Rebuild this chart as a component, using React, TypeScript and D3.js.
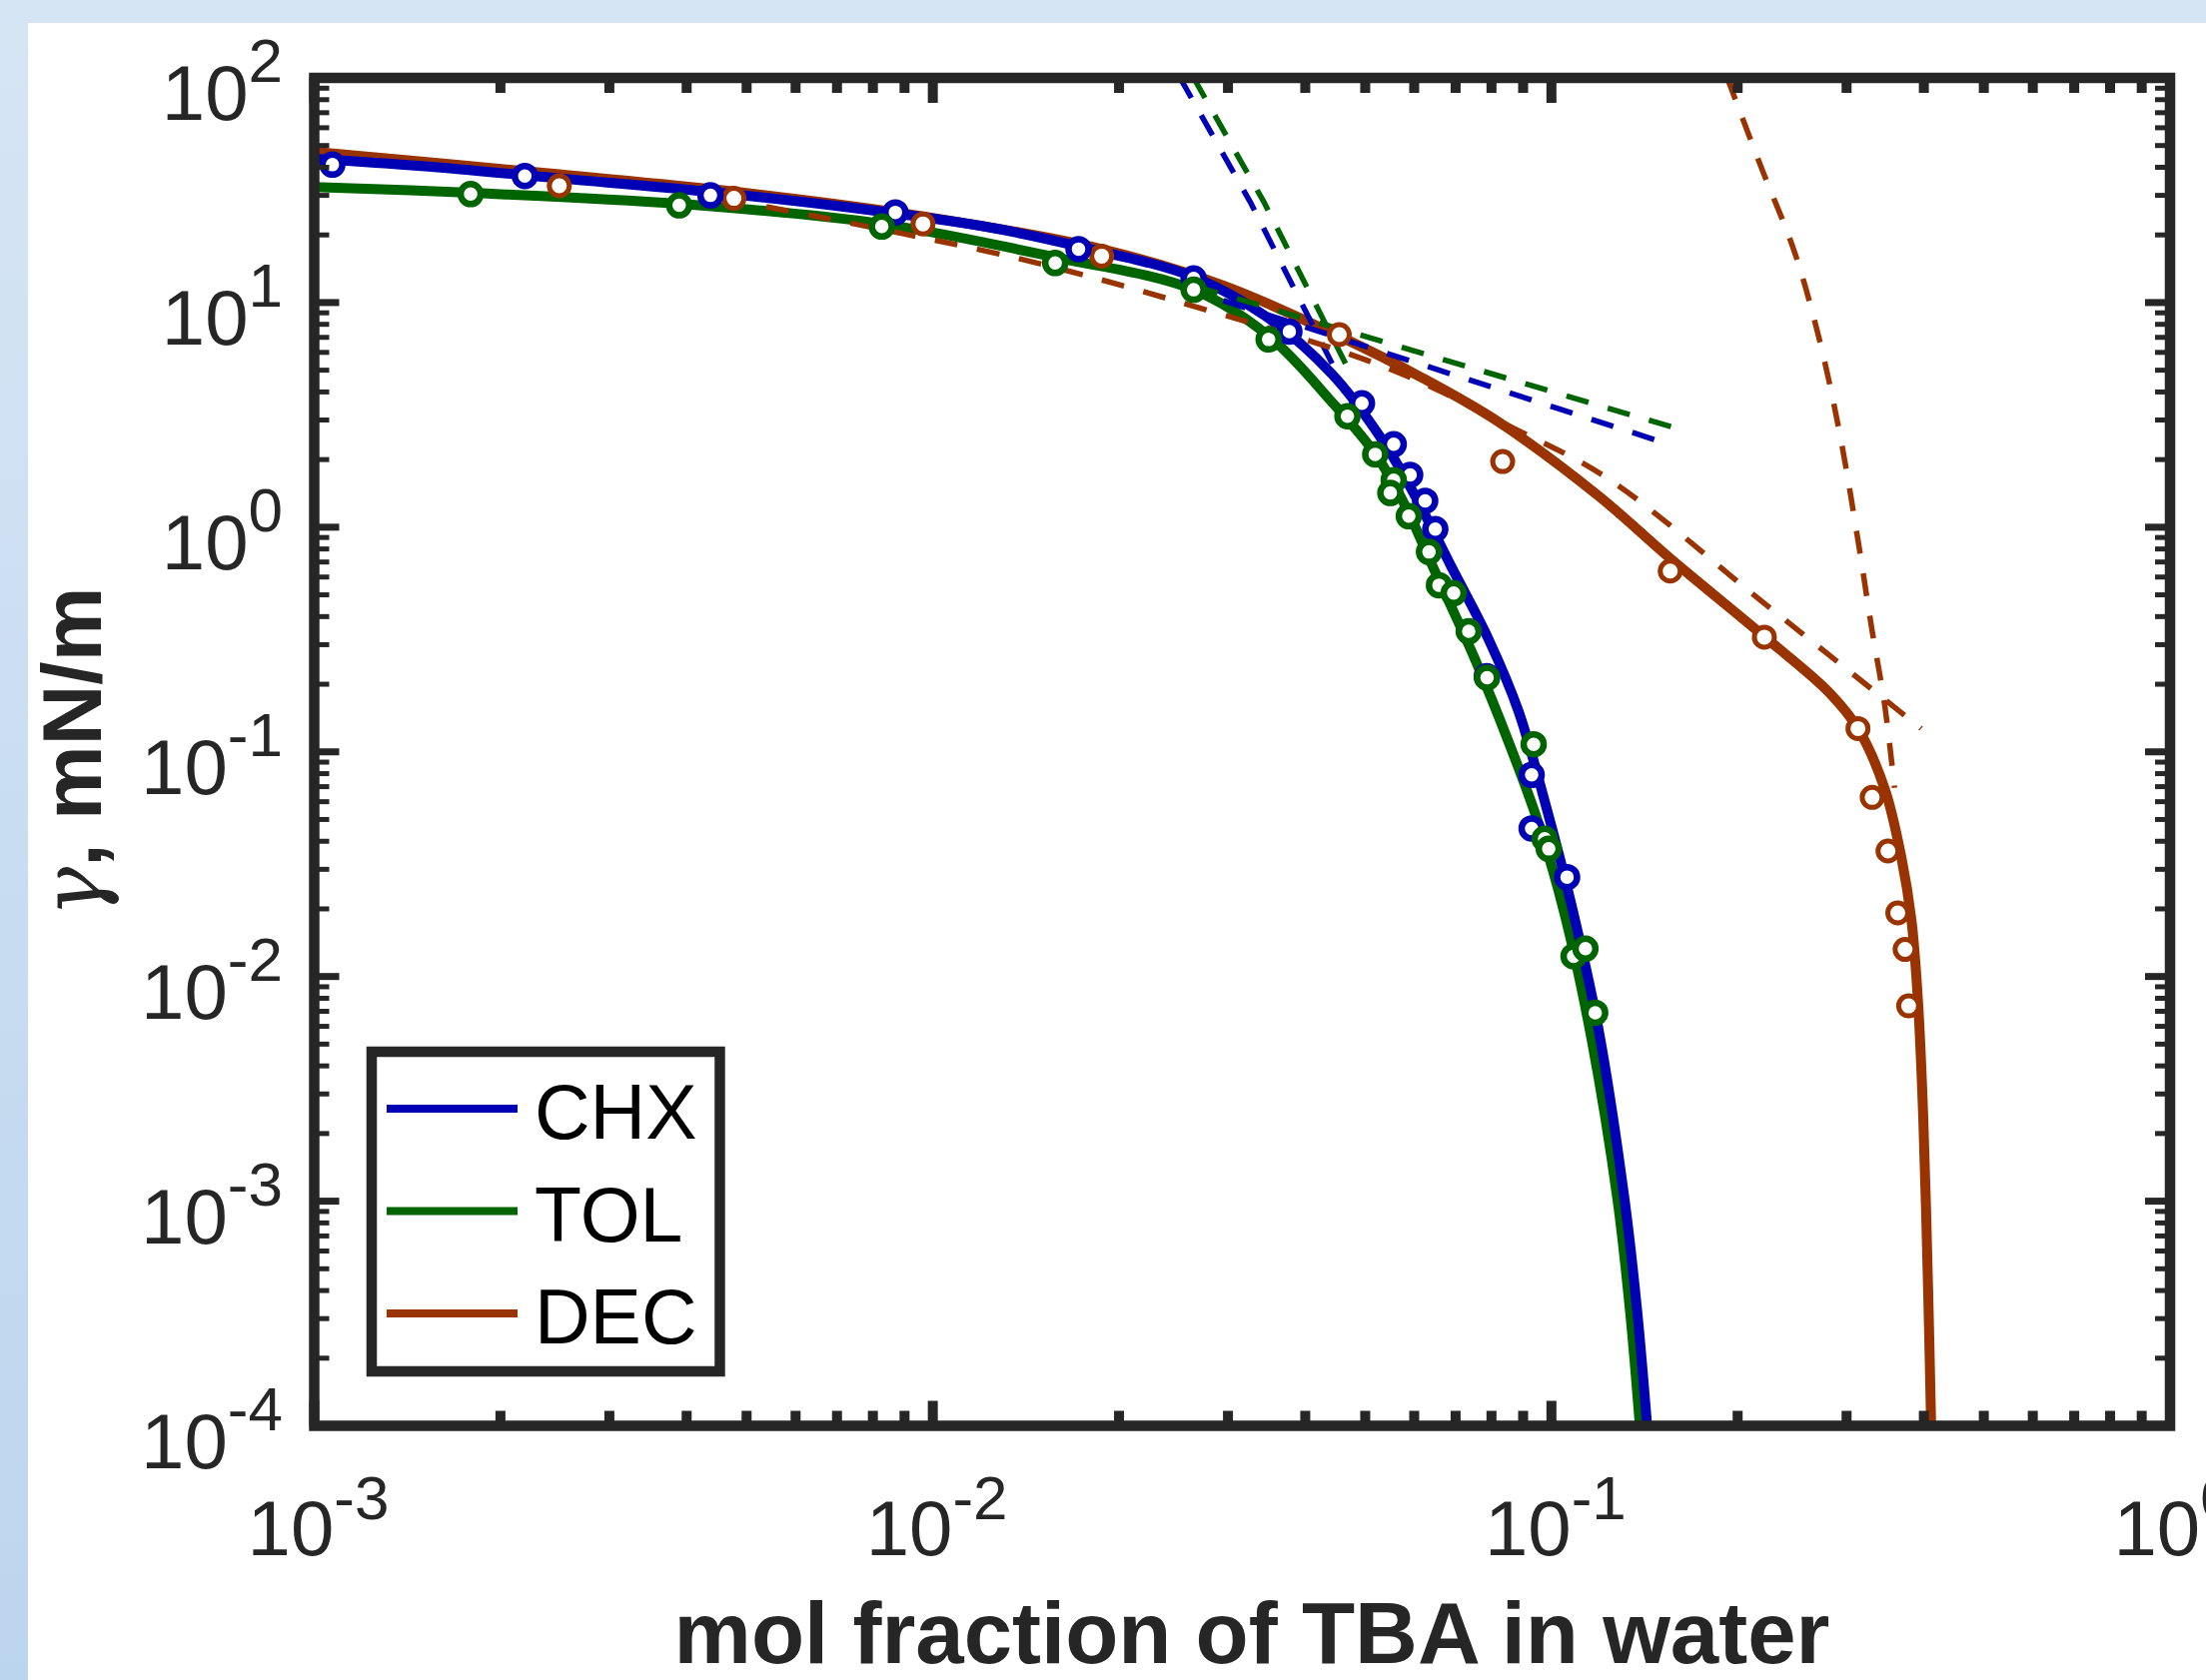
import React, { useEffect } from 'react';
import * as d3 from 'd3';

const W = 2208;
const H = 1682;

// axis decades
const xTickExps = [-3, -2, -1, 0];
const yTickExps = [2, 1, 0, -1, -2, -3, -4];

const seriesNames = ['CHX', 'TOL', 'DEC'];

// measured points (mol fraction, gamma mN/m)
const chxPoints: [number, number][] = [
  [0.00107, 41.1], [0.00219, 36.6], [0.00437, 30.0], [0.0087, 25.2], [0.0172, 17.3],
  [0.0264, 12.8], [0.0377, 7.43], [0.0494, 3.56], [0.0556, 2.34], [0.0591, 1.71],
  [0.0625, 1.31], [0.0649, 0.98], [0.0786, 0.217], [0.0929, 0.079], [0.0929, 0.0456],
  [0.106, 0.0277],
];
const tolPoints: [number, number][] = [
  [0.00179, 30.4], [0.00389, 27.1], [0.00827, 21.8], [0.01577, 15.0], [0.0264, 11.4],
  [0.0349, 6.85], [0.0468, 3.12], [0.0519, 2.11], [0.0556, 1.62], [0.0549, 1.42],
  [0.0588, 1.12], [0.0634, 0.776], [0.0658, 0.552], [0.0695, 0.509], [0.0735, 0.344],
  [0.0787, 0.214], [0.0936, 0.108], [0.0975, 0.041], [0.099, 0.037], [0.1086, 0.0123],
  [0.1135, 0.0133], [0.1177, 0.0069],
];
const decPoints: [number, number][] = [
  [0.00249, 33.1], [0.00477, 29.1], [0.00964, 22.4], [0.01875, 16.1], [0.0454, 7.2],
  [0.0834, 1.96], [0.1556, 0.638], [0.2209, 0.324], [0.313, 0.127], [0.33, 0.0627],
  [0.35, 0.0362], [0.363, 0.0192], [0.373, 0.0132], [0.378, 0.0074],
];

// fitted curves (solid)
const chxFit: [number, number][] = [
  [0.001, 43.6], [0.00149, 40.5], [0.00252, 35.6], [0.00426, 31.3], [0.00718, 26.7],
  [0.01213, 21.8], [0.0172, 17.8], [0.0264, 13.0], [0.0345, 8.7], [0.0442, 4.8],
  [0.0532, 2.46], [0.0602, 1.38], [0.069, 0.662], [0.0791, 0.318], [0.0884, 0.1525],
  [0.0977, 0.0592], [0.1078, 0.0207], [0.1191, 0.00586], [0.1313, 0.001014],
  [0.1376, 0.000324], [0.1428, 0.0001],
];
const tolFit: [number, number][] = [
  [0.001, 32.7], [0.00179, 30.8], [0.00389, 27.5], [0.00827, 22.4], [0.01577, 15.9],
  [0.0264, 11.4], [0.0349, 7.1], [0.0442, 3.6], [0.0519, 2.12], [0.058, 1.25],
  [0.0641, 0.68], [0.0753, 0.257], [0.0852, 0.1112], [0.0953, 0.048], [0.1052, 0.01866],
  [0.1161, 0.00528], [0.1279, 0.001014], [0.134, 0.000324], [0.139, 0.0001],
];
const decFit: [number, number][] = [
  [0.001, 46.9], [0.00249, 37.2], [0.00477, 31.2], [0.00964, 24.2], [0.01875, 17.3],
  [0.0295, 11.9], [0.0454, 7.08], [0.0614, 4.67], [0.082, 2.95], [0.1191, 1.38],
  [0.1556, 0.726], [0.2209, 0.326], [0.2808, 0.1845], [0.313, 0.127], [0.3457, 0.0686],
  [0.3679, 0.0339], [0.382, 0.01775], [0.3913, 0.0078], [0.399, 0.0024],
  [0.4063, 0.000412], [0.411, 0.0001],
];

// limiting-law lines (dashed)
const chxSteep: [number, number][] = [[0.0251, 100], [0.0326, 28.0], [0.0445, 5.16]];
const tolSteep: [number, number][] = [[0.0264, 100], [0.0343, 28.0], [0.0469, 5.09]];
const chxShallow: [number, number][] = [[0.0295, 10.2], [0.1556, 2.33]];
const tolShallow: [number, number][] = [[0.0266, 11.8], [0.1603, 2.74]];
const decShallow: [number, number][] = [
  [0.00538, 26.7], [0.01324, 16.1], [0.0243, 10.3], [0.0545, 5.09], [0.0873, 2.74],
  [0.1233, 1.65], [0.2209, 0.458], [0.396, 0.127],
];
const decSteep: [number, number][] = [
  [0.1924, 100], [0.2193, 38.8], [0.2466, 17.1], [0.2703, 7.08], [0.2924, 2.62],
  [0.313, 0.876], [0.3298, 0.348], [0.3457, 0.162], [0.3586, 0.0692],
];

const BLUE = '#0000b4';
const GREEN = '#006400';
const BROWN = '#993300';
const AX = '#262626';

const L = 314.5, R = 2172, T = 78, B = 1427.5;

export default function App() {
  useEffect(() => {
    document.body.style.margin = '0';
  }, []);

  const x = d3.scaleLog().domain([1e-3, 1]).range([L, R]);
  const y = d3.scaleLog().domain([1e-4, 1e2]).range([B, T]);

  const smooth = d3.line<[number, number]>()
    .x(d => x(d[0])).y(d => y(d[1]))
    .curve(d3.curveCatmullRom.alpha(0.5));
  const straight = d3.line<[number, number]>()
    .x(d => x(d[0])).y(d => y(d[1]));

  const xt = x.ticks();
  const yt = y.ticks();
  const isMajor = (v: number) => Math.abs(Math.log10(v) - Math.round(Math.log10(v))) < 1e-6;

  const colors = [BLUE, GREEN, BROWN];

  const marker = (pts: [number, number][], c: string, sw: number, key: string) =>
    pts.map((p, i) => (
      <circle key={key + i} cx={x(p[0])} cy={y(p[1])} r={10} fill="#fff" stroke={c} strokeWidth={sw} />
    ));

  const font = '"Liberation Sans", Arial, Helvetica, sans-serif';

  return (
    <svg width={W} height={H} style={{ position: 'absolute', left: 0, top: 0, display: 'block' }}
      xmlns="http://www.w3.org/2000/svg">
      <defs>
        <linearGradient id="bg" x1="0" y1="0" x2="0" y2="1">
          <stop offset="0" stopColor="#d6e5f4" />
          <stop offset="1" stopColor="#bcd5ee" />
        </linearGradient>
        <clipPath id="plotclip">
          <rect x={L} y={T} width={R - L} height={B - T} />
        </clipPath>
      </defs>
      <rect x={0} y={0} width={W} height={H} fill="url(#bg)" />
      <rect x={28} y={23} width={W - 28} height={H - 23} fill="#ffffff" />

      <g clipPath="url(#plotclip)" fill="none">
        <path d={smooth(decFit) || ''} stroke={BROWN} strokeWidth={10} />
        <path d={smooth(tolFit) || ''} stroke={GREEN} strokeWidth={10} />
        <path d={smooth(chxFit) || ''} stroke={BLUE} strokeWidth={10} />
        <g strokeWidth={5.5} strokeDasharray="23 20">
          <path d={straight(chxSteep) || ''} stroke={BLUE} />
          <path d={straight(tolSteep) || ''} stroke={GREEN} />
          <path d={straight(chxShallow) || ''} stroke={BLUE} />
          <path d={straight(tolShallow) || ''} stroke={GREEN} />
          <path d={smooth(decShallow) || ''} stroke={BROWN} />
          <path d={smooth(decSteep) || ''} stroke={BROWN} />
        </g>
      </g>

      {marker(decPoints, BROWN, 5, 'd')}
      {marker(chxPoints, BLUE, 6.5, 'c')}
      {marker(tolPoints, GREEN, 6.5, 't')}

      {/* ticks */}
      <g stroke={AX}>
        {xt.map((v, i) => {
          const len = isMajor(v) ? 25 : 15;
          const px = x(v);
          return (
            <g key={'xt' + i}>
              <line x1={px} x2={px} y1={B} y2={B - len} strokeWidth={10} />
              <line x1={px} x2={px} y1={T} y2={T + len} strokeWidth={10} />
            </g>
          );
        })}
        {yt.map((v, i) => {
          const maj = isMajor(v);
          const len = maj ? 25 : 15;
          const py = y(v);
          return (
            <g key={'yt' + i}>
              <line x1={L} x2={L + len} y1={py} y2={py} strokeWidth={maj ? 7 : 5} />
              <line x1={R} x2={R - len} y1={py} y2={py} strokeWidth={maj ? 7 : 5} />
            </g>
          );
        })}
      </g>
      <rect x={L} y={T} width={R - L} height={B - T} fill="none" stroke={AX} strokeWidth={10.5} />

      {/* tick labels */}
      <g fill={AX} fontFamily={font}>
        {yTickExps.map(e => (
          <text key={'yl' + e} x={283} y={y(Math.pow(10, e)) + 42} textAnchor="end" fontSize={78}>
            10<tspan fontSize={62} dy={-38}>{String(e)}</tspan>
          </text>
        ))}
        {xTickExps.map(e => (
          <text key={'xl' + e} x={x(Math.pow(10, e)) + 4} y={1557} textAnchor="middle" fontSize={78}>
            10<tspan fontSize={62} dy={-36}>{String(e)}</tspan>
          </text>
        ))}
      </g>

      {/* axis labels */}
      <text x={1253} y={1665} textAnchor="middle" fontFamily={font} fontWeight="bold" fontSize={87} fill={AX}>
        mol fraction of TBA in water
      </text>
      <text transform={`translate(101,${(T + B) / 2}) rotate(-90)`} textAnchor="middle" fontFamily={font}
        fontWeight="bold" fontSize={84} fill={AX}>
        <tspan fontFamily='"DejaVu Serif", "Liberation Serif", serif' fontWeight="normal" fontStyle="italic">γ</tspan>, mN/m
      </text>

      {/* legend */}
      <rect x={372} y={1053} width={348.5} height={320} fill="#fff" stroke={AX} strokeWidth={10.5} />
      {seriesNames.map((n, i) => (
        <g key={'lg' + n}>
          <line x1={387} x2={518} y1={1110 + i * 102.5} y2={1110 + i * 102.5} stroke={colors[i]} strokeWidth={8} />
          <text x={535} y={1140 + i * 102.5} fontFamily={font} fontSize={77} fill="#000">{n}</text>
        </g>
      ))}
    </svg>
  );
}
